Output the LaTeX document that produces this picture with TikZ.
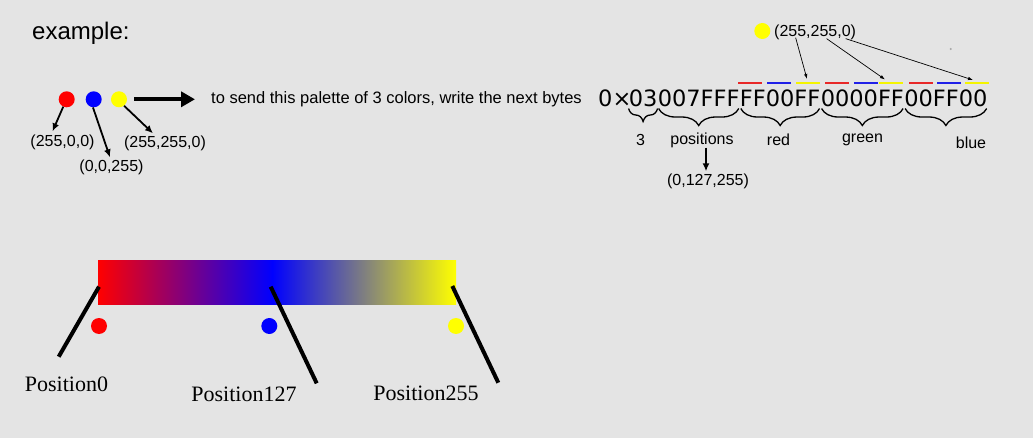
\documentclass[tikz,border=0pt]{standalone}
\usepackage{fontspec}
\setmainfont{Liberation Sans}
\newfontfamily\serifpos{Liberation Serif}
\newfontfamily\hexfont{DejaVu Sans}
\usetikzlibrary{arrows.meta,decorations.pathreplacing,calc}
\definecolor{bg}{HTML}{E4E4E4}
\definecolor{pred}{HTML}{FF0000}
\definecolor{pblue}{HTML}{0000FF}
\definecolor{pyellow}{HTML}{FFFF00}
\definecolor{dashred}{HTML}{E82828}
\definecolor{dashblue}{HTML}{2020E8}
\definecolor{dashyellow}{HTML}{F4F400}
\tikzset{
  dot/.style={circle,inner sep=0pt,minimum size=16pt},
  lbl/.style={font=\fontsize{16}{19}\selectfont,inner sep=1pt},
  hex/.style={font=\hexfont\fontsize{22.5}{27}\selectfont,inner sep=0pt,anchor=base west},
  ptr/.style={line width=1.8pt,-{Latex[length=8pt,width=7pt]}},
  bigptr/.style={line width=4pt,-{Triangle[length=14pt,width=15pt]}},
  thinptr/.style={line width=0.7pt,-{Latex[length=5pt,width=3.5pt]}},
  bytebrace/.style={decorate,decoration={brace,mirror,amplitude=#1},line width=1.3pt},
  bardash/.style={line width=2pt},
  posline/.style={line width=4pt},
  poslbl/.style={font=\serifpos\fontsize{22}{26}\selectfont,inner sep=0pt,anchor=base}
}
\begin{document}
\begin{tikzpicture}[x=1pt,y=-1pt]
\useasboundingbox (0,0) rectangle (1033,438);
\fill[bg] (0,0) rectangle (1033,438);

% title
\node[font=\fontsize{24}{28}\selectfont,inner sep=0pt,anchor=base west] (title) at (32,40) {example:};

% palette dots
\node[dot,fill=pred] (c1) at (66.7,99.3) {};
\node[dot,fill=pblue] (c2) at (93.7,99.3) {};
\node[dot,fill=pyellow] (c3) at (119,99.3) {};

\node[lbl] (l1) at (62.5,142) {(255,0,0)};
\node[lbl] (l2) at (111.5,167) {(0,0,255)};
\node[lbl] (l3) at (165,143) {(255,255,0)};

\draw[ptr] (c1.-115) -- ([xshift=-10pt,yshift=2pt]l1.north);
\draw[ptr] (c2.-95) -- ([xshift=-1.5pt,yshift=1pt]l2.north);
\draw[ptr] (c3.-52) -- ([xshift=-12pt,yshift=1pt]l3.north);

\node[font=\fontsize{16.5}{20}\selectfont,inner sep=0pt,anchor=base west] (sent) at (211,104) {to send this palette of 3 colors, write the next bytes};
\draw[bigptr] ([xshift=7pt]c3.east) -- ([xshift=-16pt]sent.west |- c3.east);

% hex bytes
\node[hex] (h0) at (598,107) {0×};
\node[hex] (h1) at ([xshift=-3pt]h0.base east) {03};
\node[hex] (h2) at (h1.base east) {007FFF};
\node[hex] (h3) at (h2.base east) {FF00FF};
\node[hex] (h4) at (h3.base east) {0000FF};
\node[hex] (h5) at (h4.base east) {00FF00};

% colour dashes
\foreach \xa/\col in {738/dashred,767/dashblue,796/dashyellow,825/dashred,854/dashblue,879/dashyellow,909/dashred,937/dashblue,965/dashyellow}
  \draw[bardash,\col] (\xa,82.7) -- ++(24,0);

% braces
\draw[bytebrace=13pt] ([yshift=-1pt]h1.south west) -- ([yshift=-1pt]h1.south east);
\draw[bytebrace=17pt] ([yshift=-1pt,xshift=1pt]h2.south west) -- ([yshift=-1pt,xshift=-1pt]h2.south east);
\draw[bytebrace=17pt] ([yshift=-1pt,xshift=1pt]h3.south west) -- ([yshift=-1pt,xshift=-1pt]h3.south east);
\draw[bytebrace=17pt] ([yshift=-1pt,xshift=1pt]h4.south west) -- ([yshift=-1pt,xshift=-1pt]h4.south east);
\draw[bytebrace=17pt] ([yshift=-1pt,xshift=1pt]h5.south west) -- ([yshift=-1pt,xshift=-1pt]h5.south east);

\node[lbl] (b1) at (640.5,140) {3};
\node[lbl] (b2) at (702,140) {positions};
\node[lbl] (b3) at (778.5,140) {red};
\node[lbl] (b4) at (862.5,140) {green};
\node[lbl] (b5) at (971,143) {blue};
\node[lbl] (p127) at (708,181) {(0,127,255)};
\draw[ptr] ([xshift=4pt,yshift=1pt]b2.south) -- ([xshift=-2pt,yshift=1pt]p127.north);

% yellow sample
\node[dot,fill=pyellow] (cy) at (762.3,31) {};
\node[lbl,anchor=west,inner sep=0pt] (ly) at (774,32) {(255,255,0)};
\coordinate (ya1) at (807,79);
\coordinate (ya2) at (885,79.5);
\coordinate (ya3) at (973,80);
\draw[thinptr] ([xshift=-19.5pt,yshift=2pt]ly.south) -- (ya1);
\draw[thinptr] ([xshift=11.5pt,yshift=1pt]ly.south) -- (ya2);
\draw[thinptr] ([xshift=30.5pt,yshift=1pt]ly.south) -- (ya3);
\fill[gray!70] (950.7,49) circle (1.1);

% gradient bar
\shade[left color=pred,right color=pblue] (98,261) rectangle (272.5,304);
\shade[left color=pblue,right color=pyellow] (272,261) rectangle (456,304);

\node[dot,fill=pred] (d0) at (99,326) {};
\node[dot,fill=pblue] (d1) at (269.3,326) {};
\node[dot,fill=pyellow] (d2) at (456,326) {};

\node[poslbl] (pos0) at (66.5,391) {Position0};
\node[poslbl] (pos1) at (244,401.7) {Position127};
\node[poslbl] (pos2) at (426,400.7) {Position255};

\coordinate (bp0) at (99,286.7);
\coordinate (bp1) at (270.7,286.7);
\coordinate (bp2) at (452.3,286);
\coordinate (ep0) at (58.7,356.7);
\coordinate (ep1) at (316.7,383.3);
\coordinate (ep2) at (498.3,382.7);
\draw[posline] (bp0) -- (ep0);
\draw[posline] (bp1) -- (ep1);
\draw[posline] (bp2) -- (ep2);
\end{tikzpicture}
\end{document}
